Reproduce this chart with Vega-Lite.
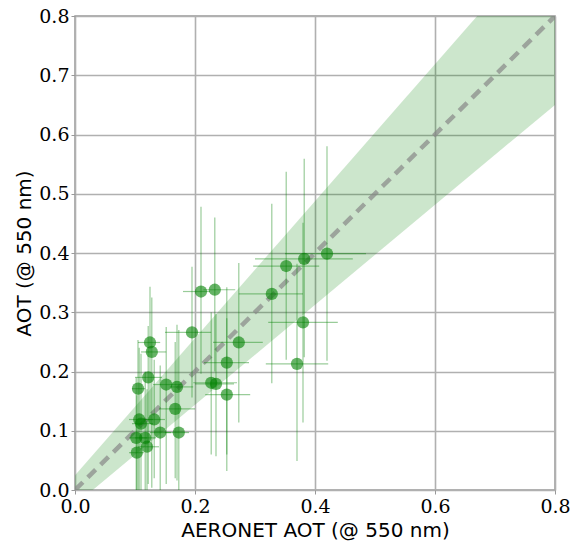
{
  "$schema": "https://vega.github.io/schema/vega-lite/v6.json",
  "width": 480,
  "height": 474,
  "autosize": {"type": "none"},
  "padding": {"left": 75, "top": 16, "right": 17, "bottom": 57},
  "background": "white",
  "config": {
    "view": {"stroke": "#999999", "strokeWidth": 1.5},
    "axis": {
      "grid": true,
      "gridColor": "#b0b0b0",
      "gridWidth": 1.6,
      "domain": false,
      "tickColor": "#999999",
      "tickSize": 4,
      "labelFont": "DejaVu Serif, Liberation Serif, serif",
      "labelFontSize": 19,
      "labelColor": "#000000",
      "labelOverlap": false,
      "labelFlush": false,
      "titleFont": "DejaVu Sans",
      "titleFontSize": 20,
      "titleFontWeight": "normal",
      "titleColor": "#000000"
    }
  },
  "datasets": {
    "pts": [
      {"x": 0.210, "y": 0.335, "xmin": 0.180, "xmax": 0.225, "ymin": 0.196, "ymax": 0.478},
      {"x": 0.233, "y": 0.338, "xmin": 0.214, "xmax": 0.267, "ymin": 0.200, "ymax": 0.460},
      {"x": 0.328, "y": 0.331, "xmin": 0.273, "xmax": 0.380, "ymin": 0.180, "ymax": 0.483},
      {"x": 0.195, "y": 0.266, "xmin": 0.150, "xmax": 0.227, "ymin": 0.156, "ymax": 0.377},
      {"x": 0.125, "y": 0.249, "xmin": 0.105, "xmax": 0.142, "ymin": 0.112, "ymax": 0.343},
      {"x": 0.128, "y": 0.233, "xmin": 0.110, "xmax": 0.152, "ymin": 0.004, "ymax": 0.325},
      {"x": 0.273, "y": 0.249, "xmin": 0.230, "xmax": 0.313, "ymin": 0.114, "ymax": 0.383},
      {"x": 0.253, "y": 0.215, "xmin": 0.215, "xmax": 0.290, "ymin": 0.060, "ymax": 0.342},
      {"x": 0.122, "y": 0.190, "xmin": 0.100, "xmax": 0.145, "ymin": 0.010, "ymax": 0.277},
      {"x": 0.105, "y": 0.171, "xmin": 0.095, "xmax": 0.117, "ymin": 0.000, "ymax": 0.253},
      {"x": 0.152, "y": 0.178, "xmin": 0.130, "xmax": 0.178, "ymin": 0.010, "ymax": 0.275},
      {"x": 0.170, "y": 0.174, "xmin": 0.158, "xmax": 0.197, "ymin": 0.016, "ymax": 0.279},
      {"x": 0.227, "y": 0.181, "xmin": 0.197, "xmax": 0.270, "ymin": 0.060, "ymax": 0.300},
      {"x": 0.235, "y": 0.179, "xmin": 0.200, "xmax": 0.265, "ymin": 0.057, "ymax": 0.297},
      {"x": 0.253, "y": 0.161, "xmin": 0.217, "xmax": 0.292, "ymin": 0.032, "ymax": 0.290},
      {"x": 0.167, "y": 0.137, "xmin": 0.140, "xmax": 0.200, "ymin": 0.020, "ymax": 0.250},
      {"x": 0.107, "y": 0.119, "xmin": 0.090, "xmax": 0.130, "ymin": 0.000, "ymax": 0.240},
      {"x": 0.132, "y": 0.119, "xmin": 0.115, "xmax": 0.150, "ymin": 0.020, "ymax": 0.220},
      {"x": 0.110, "y": 0.112, "xmin": 0.095, "xmax": 0.130, "ymin": 0.000, "ymax": 0.230},
      {"x": 0.142, "y": 0.097, "xmin": 0.125, "xmax": 0.160, "ymin": 0.000, "ymax": 0.210},
      {"x": 0.173, "y": 0.097, "xmin": 0.150, "xmax": 0.190, "ymin": 0.000, "ymax": 0.270},
      {"x": 0.102, "y": 0.088, "xmin": 0.090, "xmax": 0.120, "ymin": 0.000, "ymax": 0.190},
      {"x": 0.117, "y": 0.088, "xmin": 0.100, "xmax": 0.135, "ymin": 0.000, "ymax": 0.200},
      {"x": 0.120, "y": 0.073, "xmin": 0.105, "xmax": 0.140, "ymin": 0.000, "ymax": 0.170},
      {"x": 0.103, "y": 0.063, "xmin": 0.090, "xmax": 0.115, "ymin": 0.000, "ymax": 0.160},
      {"x": 0.420, "y": 0.399, "xmin": 0.350, "xmax": 0.485, "ymin": 0.218, "ymax": 0.580},
      {"x": 0.382, "y": 0.390, "xmin": 0.300, "xmax": 0.463, "ymin": 0.224, "ymax": 0.559},
      {"x": 0.352, "y": 0.378, "xmin": 0.297, "xmax": 0.407, "ymin": 0.220, "ymax": 0.537},
      {"x": 0.380, "y": 0.283, "xmin": 0.322, "xmax": 0.438, "ymin": 0.114, "ymax": 0.451},
      {"x": 0.370, "y": 0.213, "xmin": 0.318, "xmax": 0.422, "ymin": 0.049, "ymax": 0.382}
    ],
    "ref": [
      {"x": 0.0, "mid": 0.0, "lo": -0.025, "hi": 0.025},
      {"x": 0.8, "mid": 0.8, "lo": 0.65, "hi": 0.95}
    ]
  },
  "layer": [
    {
      "data": {"name": "ref"},
      "mark": {"type": "area", "color": "green", "opacity": 0.2, "clip": true},
      "encoding": {
        "x": {"field": "x", "type": "quantitative", "scale": {"domain": [0, 0.8], "nice": false, "zero": false},
              "axis": {"values": [0, 0.2, 0.4, 0.6, 0.8], "format": ".1f", "title": "AERONET AOT (@ 550 nm)", "labelPadding": 3, "titlePadding": 4}},
        "y": {"field": "lo", "type": "quantitative", "scale": {"domain": [0, 0.8], "nice": false, "zero": false},
              "axis": {"values": [0, 0.1, 0.2, 0.3, 0.4, 0.5, 0.6, 0.7, 0.8], "format": ".1f", "title": "AOT (@ 550 nm)", "labelPadding": 2, "titlePadding": 4}},
        "y2": {"field": "hi"}
      }
    },
    {
      "data": {"name": "ref"},
      "mark": {"type": "line", "color": "#888888", "opacity": 0.7, "strokeWidth": 4.5, "strokeDash": [11, 7], "clip": true},
      "encoding": {
        "x": {"field": "x", "type": "quantitative"},
        "y": {"field": "mid", "type": "quantitative"}
      }
    },
    {
      "data": {"name": "pts"},
      "mark": {"type": "rule", "color": "green", "opacity": 0.4, "strokeWidth": 1.2, "clip": true},
      "encoding": {
        "x": {"field": "x", "type": "quantitative"},
        "y": {"field": "ymin", "type": "quantitative"},
        "y2": {"field": "ymax"}
      }
    },
    {
      "data": {"name": "pts"},
      "mark": {"type": "rule", "color": "green", "opacity": 0.4, "strokeWidth": 1.2, "clip": true},
      "encoding": {
        "x": {"field": "xmin", "type": "quantitative"},
        "x2": {"field": "xmax"},
        "y": {"field": "y", "type": "quantitative"}
      }
    },
    {
      "data": {"name": "pts"},
      "mark": {"type": "circle", "color": "green", "opacity": 0.6, "size": 150},
      "encoding": {
        "x": {"field": "x", "type": "quantitative"},
        "y": {"field": "y", "type": "quantitative"}
      }
    }
  ]
}
